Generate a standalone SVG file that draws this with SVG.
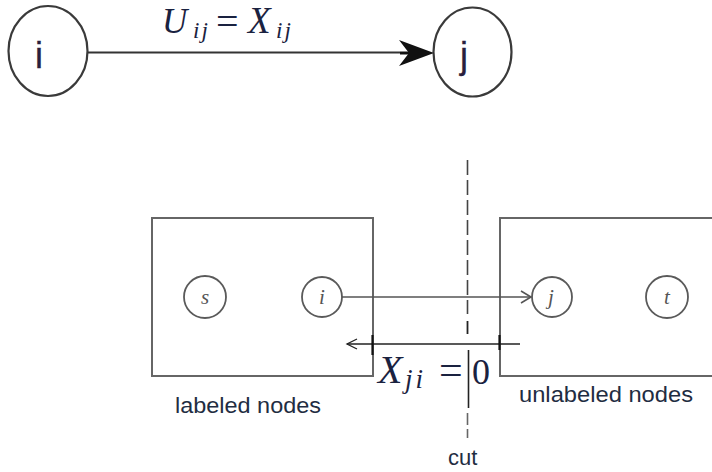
<svg xmlns="http://www.w3.org/2000/svg" width="712" height="472" viewBox="0 0 712 472">
  <style>
    .big { fill: none; stroke: #3a3a3a; stroke-width: 2.2; }
    .node { fill: none; stroke: #5a5a5a; stroke-width: 1.8; }
    .box { fill: none; stroke: #666; stroke-width: 2; }
    .lbl { font-family: "Liberation Sans", Arial, sans-serif; font-size: 36px; fill: #2a1f3d; stroke: #2a1f3d; stroke-width: 0.3; }
    .math { font-family: "Liberation Serif", "Times New Roman", serif; fill: #1a2240; }
    .it { font-style: italic; }
    .small { font-family: "Liberation Serif", "Times New Roman", serif; font-style: italic; font-size: 21px; fill: #555; }
    .cap { font-family: "Liberation Sans", Arial, sans-serif; font-size: 22px; fill: #1f2d42; }
  </style>
  <defs>
    <marker id="openHead" markerWidth="14" markerHeight="14" refX="12" refY="7" orient="auto" markerUnits="userSpaceOnUse">
      <path d="M2,1 L12,7 L2,13" fill="none" stroke="#555" stroke-width="1.6"/>
    </marker>
    <marker id="openHeadK" markerWidth="14" markerHeight="14" refX="12" refY="7" orient="auto" markerUnits="userSpaceOnUse">
      <path d="M2,2 L12,7 L2,12" fill="none" stroke="#222" stroke-width="1.3"/>
    </marker>
  </defs>
  <rect width="712" height="472" fill="#ffffff"/>

  <!-- top graph -->
  <g id="top-node-i">
    <ellipse cx="48" cy="51" rx="39.5" ry="45" class="big"/>
    <text x="35" y="68" class="lbl">i</text>
  </g>
  <g id="top-node-j">
    <ellipse cx="472.5" cy="52" rx="39" ry="44.5" class="big"/>
    <text x="460" y="68" class="lbl">j</text>
  </g>

  <g id="top-connectors">
    <line x1="88" y1="52.5" x2="400" y2="52.5" stroke="#333" stroke-width="2"/>
    <path d="M399,40 L434,53 L399,66 L409,53 Z" fill="#111"/>
    <line x1="400" y1="53" x2="410" y2="53" stroke="#111" stroke-width="3"/>
  </g>

  <g id="top-label">
    <text class="math it" x="162" y="33" font-size="35">U</text>
    <text class="math it" x="193" y="38" font-size="23" letter-spacing="2">ij</text>
    <text class="math" x="216" y="35" font-size="40">=</text>
    <text class="math it" x="248" y="33" font-size="37">X</text>
    <text class="math it" x="276" y="38" font-size="23" letter-spacing="2">ij</text>
  </g>

  <!-- bottom figure -->
  <g id="labeled-box">
    <rect x="152" y="218" width="221" height="158" class="box"/>
    <text x="175" y="413" class="cap" textLength="146" lengthAdjust="spacingAndGlyphs">labeled nodes</text>
  </g>
  <g id="unlabeled-box">
    <path d="M722,218 L500,218 L500,376 L722,376" class="box"/>
    <text x="519" y="402" class="cap" textLength="174" lengthAdjust="spacingAndGlyphs">unlabeled nodes</text>
  </g>

  <g id="node-s">
    <circle cx="205" cy="297" r="21" class="node"/>
    <text x="205" y="304" text-anchor="middle" class="small">s</text>
  </g>
  <g id="node-i">
    <circle cx="322" cy="297" r="20" class="node"/>
    <text x="322" y="304" text-anchor="middle" class="small">i</text>
  </g>
  <g id="node-j">
    <circle cx="552" cy="297" r="20" class="node"/>
    <text x="551" y="304" text-anchor="middle" class="small">j</text>
  </g>
  <g id="node-t">
    <circle cx="667" cy="297" r="21" class="node"/>
    <text x="667" y="304" text-anchor="middle" class="small">t</text>
  </g>

  <g id="connectors">
    <line x1="342" y1="297" x2="531" y2="297" stroke="#555" stroke-width="1.6" marker-end="url(#openHead)"/>
    <line x1="520" y1="344" x2="347" y2="344" stroke="#222" stroke-width="1.5" marker-end="url(#openHeadK)"/>
    <line x1="372.5" y1="335" x2="372.5" y2="355" stroke="#111" stroke-width="2.2"/>
    <line x1="499.5" y1="335" x2="499.5" y2="350" stroke="#111" stroke-width="2.2"/>
  </g>

  <g id="cut">
    <line x1="467.5" y1="160" x2="467.5" y2="314" stroke="#444" stroke-width="1.6" stroke-dasharray="15 5"/>
    <line x1="467.5" y1="321" x2="467.5" y2="334" stroke="#222" stroke-width="1.8"/>
    <line x1="468.5" y1="350" x2="468.5" y2="408" stroke="#222" stroke-width="1.6"/>
    <line x1="467.5" y1="413" x2="467.5" y2="438" stroke="#666" stroke-width="1.6" stroke-dasharray="12 4"/>
    <text x="448" y="465" class="cap">cut</text>
  </g>

  <g id="flow-label">
    <text class="math it" x="378" y="383" font-size="40">X</text>
    <text class="math it" x="405" y="388" font-size="27" letter-spacing="3">ji</text>
    <text class="math" x="439" y="384" font-size="42">=</text>
    <text class="math" x="472" y="384" font-size="36">0</text>
  </g>
</svg>
